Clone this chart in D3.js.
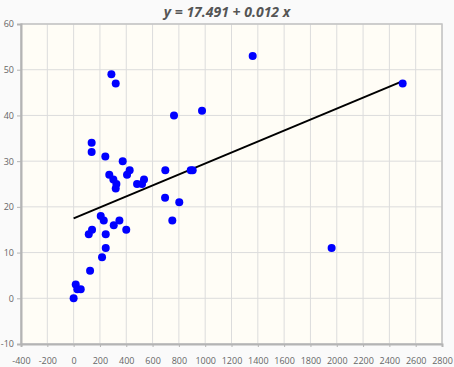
<!DOCTYPE html>
<html lang="en">
	<head>
		<meta charset="utf-8">
		<title>Scatter with regression line</title>
		<script src="https://cdn.jsdelivr.net/npm/d3@7"></script>
		<style>
			body { margin: 0; background: #fafafa; }
			text { font-family: "Segoe UI", "Open Sans", sans-serif; }
		</style>
	</head>
	<body>
		<script>
			//Width and height
			var w = 454;
			var h = 367;

			//Data
			var xValues = [0, 16, 28, 54, 125, 115, 140, 206, 229, 244, 216, 244, 305, 348, 400,
				137, 137, 241, 287, 320, 373, 426, 406, 271, 302, 325, 320, 482, 535, 520,
				763, 976, 697, 890, 905, 695, 803, 750, 1961, 1361, 2501];
			var yValues = [0, 3, 2, 2, 6, 14, 15, 18, 17, 14, 9, 11, 16, 17, 15,
				34, 32, 31, 49, 47, 30, 28, 27, 27, 26, 25, 24, 25, 26, 25,
				40, 41, 28, 28, 28, 22, 21, 17, 11, 53, 47];
			var intercept = 17.491;
			var slope = 0.012;
			var xTicks = d3.range(-400, 2801, 200);
			var yTicks = d3.range(-10, 61, 10);

			var margin = { top: 24, right: 12, bottom: 23, left: 21 };

			var xScale = d3.scaleLinear()
				.domain([-400, 2800])
				.range([margin.left, w - margin.right]);

			var yScale = d3.scaleLinear()
				.domain([-10, 60])
				.range([h - margin.bottom, margin.top]);

			var svg = d3.select("body")
				.append("svg")
				.attr("width", w)
				.attr("height", h);

			//Plot background
			svg.append("rect")
				.attr("x", xScale(-400))
				.attr("y", yScale(60))
				.attr("width", xScale(2800) - xScale(-400))
				.attr("height", yScale(-10) - yScale(60))
				.attr("fill", "#fffdf6");

			//Grid
			svg.append("g")
				.selectAll("line")
				.data(xTicks)
				.enter()
				.append("line")
				.attr("x1", function(d) { return xScale(d); })
				.attr("x2", function(d) { return xScale(d); })
				.attr("y1", yScale(-10))
				.attr("y2", yScale(60))
				.attr("stroke", "#dcdcdc")
				.attr("stroke-width", 1);

			svg.append("g")
				.selectAll("line")
				.data(yTicks)
				.enter()
				.append("line")
				.attr("x1", xScale(-400))
				.attr("x2", xScale(2800))
				.attr("y1", function(d) { return yScale(d); })
				.attr("y2", function(d) { return yScale(d); })
				.attr("stroke", "#dcdcdc")
				.attr("stroke-width", 1);

			//Frame
			svg.append("rect")
				.attr("x", xScale(-400))
				.attr("y", yScale(60))
				.attr("width", xScale(2800) - xScale(-400))
				.attr("height", yScale(-10) - yScale(60))
				.attr("fill", "none")
				.attr("stroke", "#c4c4c4")
				.attr("stroke-width", 1.5);

			//Axes
			var plain = function(d) { return String(d); };
			var xAxis = d3.axisBottom(xScale)
				.tickValues(xTicks)
				.tickFormat(plain)
				.tickSize(3)
				.tickPadding(11);
			var yAxis = d3.axisLeft(yScale)
				.tickValues(yTicks)
				.tickFormat(plain)
				.tickSize(4)
				.tickPadding(3);

			var gx = svg.append("g")
				.attr("transform", "translate(0," + yScale(-10) + ")")
				.call(xAxis);
			var gy = svg.append("g")
				.attr("transform", "translate(" + xScale(-400) + ",0)")
				.call(yAxis);

			[gx, gy].forEach(function(g) {
				g.select(".domain").attr("stroke", "#b4b4b4").attr("stroke-width", 2);
				g.selectAll(".tick line").attr("stroke", "#b4b4b4");
				g.selectAll(".tick text")
					.attr("fill", "#666")
					.style("font-size", "9px");
			});

			//Regression line
			var xExt = d3.extent(xValues);
			svg.append("line")
				.attr("x1", xScale(xExt[0]))
				.attr("y1", yScale(intercept + slope * xExt[0]))
				.attr("x2", xScale(xExt[1]))
				.attr("y2", yScale(intercept + slope * xExt[1]))
				.attr("stroke", "#000")
				.attr("stroke-width", 2);

			//Points
			svg.append("g")
				.selectAll("circle")
				.data(xValues)
				.enter()
				.append("circle")
				.attr("cx", function(d) { return xScale(d); })
				.attr("cy", function(d, i) { return yScale(yValues[i]); })
				.attr("r", 4)
				.attr("fill", "#0000ff");

			//Title
			svg.append("text")
				.attr("x", w / 2)
				.attr("y", 17)
				.attr("text-anchor", "middle")
				.attr("fill", "#555")
				.style("font-size", "14px")
				.style("font-weight", "bold")
				.style("font-style", "italic")
				.text("y = " + intercept + " + " + slope + " x");
		</script>
	</body>
</html>
